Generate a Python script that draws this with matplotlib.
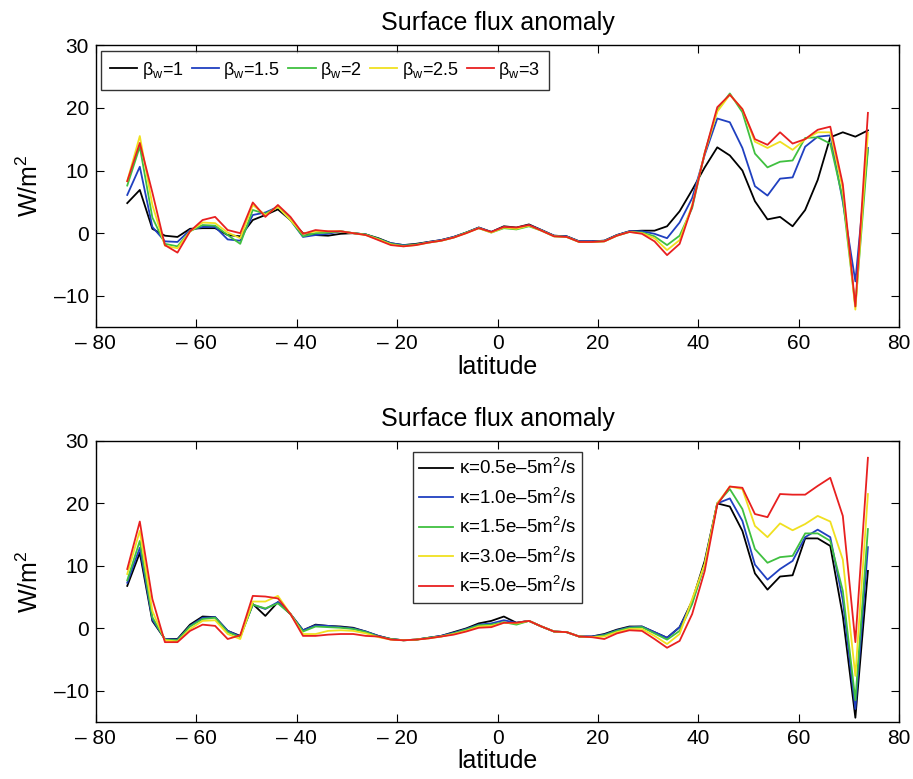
import numpy as np
import matplotlib
matplotlib.use("Agg")
import matplotlib.pyplot as plt

plt.rcParams['font.family'] = ['Liberation Sans', 'DejaVu Sans']
plt.rcParams['mathtext.fontset'] = 'custom'
plt.rcParams['mathtext.rm'] = 'Liberation Sans'
plt.rcParams['mathtext.it'] = 'Liberation Sans:italic'

# latitude grid of the model output
lat = np.arange(-73.75, 74.0, 2.5)

# top panel: beta_w experiments
beta_labels = ['β$_\\mathrm{w}$=1', 'β$_\\mathrm{w}$=1.5', 'β$_\\mathrm{w}$=2',
               'β$_\\mathrm{w}$=2.5', 'β$_\\mathrm{w}$=3']
beta_1 = [4.8, 6.9, 0.7, -0.4, -0.6, 0.7, 0.8, 0.8, -0.3, -0.5,
          2.1, 2.9, 3.8, 2.1, 0.0, -0.3, -0.4, -0.1, 0.0, -0.2,
          -0.8, -1.6, -1.9, -1.7, -1.4, -1.1, -0.6, 0.1, 0.9, 0.2,
          1.1, 0.9, 1.4, 0.5, -0.4, -0.5, -1.3, -1.3, -1.2, -0.3,
          0.3, 0.4, 0.4, 1.1, 3.5, 6.9, 10.5, 13.7, 12.4, 10.0,
          5.1, 2.2, 2.6, 1.1, 3.7, 8.5, 15.3, 16.1, 15.4, 16.4]
beta_15 = [6.1, 10.6, 1.0, -1.3, -1.4, 0.5, 1.0, 1.0, -1.0, -1.2,
           2.9, 3.3, 4.2, 2.1, -0.6, -0.3, -0.1, 0.3, 0.0, -0.2,
           -0.9, -1.6, -1.9, -1.8, -1.4, -1.1, -0.6, 0.1, 0.9, 0.2,
           1.0, 0.8, 1.3, 0.5, -0.4, -0.5, -1.3, -1.3, -1.2, -0.3,
           0.3, 0.3, -0.1, -0.8, 1.7, 5.6, 12.5, 18.3, 17.7, 13.6,
           7.5, 6.0, 8.7, 8.9, 13.8, 15.4, 15.6, 5.0, -7.7, 13.6]
beta_2 = [7.6, 13.8, 2.5, -1.7, -2.1, 0.3, 1.3, 1.2, -0.3, -1.7,
          3.7, 3.1, 4.2, 2.1, -0.5, 0.0, 0.1, 0.3, 0.0, -0.2,
          -0.9, -1.7, -2.0, -1.8, -1.5, -1.2, -0.7, 0.1, 0.8, 0.1,
          0.8, 0.6, 1.1, 0.4, -0.5, -0.6, -1.4, -1.4, -1.3, -0.4,
          0.2, 0.1, -0.5, -1.9, -0.4, 4.0, 12.8, 19.6, 22.3, 19.3,
          12.7, 10.5, 11.4, 11.6, 15.2, 15.3, 14.3, 5.5, -11.7, 13.3]
beta_25 = [8.3, 15.5, 4.5, -2.0, -2.4, 0.3, 1.7, 1.6, 0.1, -0.8,
           4.5, 2.9, 4.2, 2.1, -0.1, 0.3, 0.3, 0.3, 0.0, -0.3,
           -1.0, -1.8, -2.1, -1.9, -1.5, -1.2, -0.7, 0.0, 0.8, 0.1,
           0.9, 0.7, 1.2, 0.4, -0.5, -0.6, -1.4, -1.4, -1.3, -0.4,
           0.2, 0.0, -0.8, -2.7, -1.1, 4.5, 12.8, 19.4, 22.1, 19.8,
           14.6, 13.6, 14.6, 13.3, 15.0, 16.1, 16.1, 7.0, -12.2, 16.0]
beta_3 = [8.3, 14.4, 6.5, -1.9, -3.1, 0.3, 2.1, 2.6, 0.5, 0.0,
          4.9, 2.6, 4.5, 2.6, -0.1, 0.5, 0.3, 0.3, 0.0, -0.3,
          -1.1, -1.9, -2.1, -1.9, -1.5, -1.2, -0.7, 0.0, 0.8, 0.2,
          1.0, 0.9, 1.3, 0.4, -0.5, -0.6, -1.4, -1.4, -1.3, -0.4,
          0.2, -0.1, -1.3, -3.5, -1.7, 4.3, 12.8, 20.1, 22.1, 19.8,
          15.0, 14.1, 16.1, 14.3, 15.0, 16.5, 17.0, 7.8, -11.7, 19.2]

# bottom panel: kappa experiments
kappa_labels = ['κ=0.5e–5m$^2$/s', 'κ=1.0e–5m$^2$/s', 'κ=1.5e–5m$^2$/s',
                'κ=3.0e–5m$^2$/s', 'κ=5.0e–5m$^2$/s']
kappa_05 = [6.8, 12.1, 1.2, -1.7, -1.7, 0.6, 1.9, 1.8, -0.4, -1.2,
            3.9, 2.0, 4.2, 2.3, -0.3, 0.6, 0.4, 0.3, 0.1, -0.5,
            -1.2, -1.7, -1.9, -1.8, -1.5, -1.2, -0.6, 0.0, 0.8, 1.2,
            1.9, 0.9, 1.2, 0.3, -0.5, -0.6, -1.3, -1.3, -0.9, -0.2,
            0.3, 0.3, -0.6, -1.5, 0.2, 4.4, 10.8, 20.0, 19.5, 15.6,
            8.8, 6.2, 8.3, 8.5, 14.4, 14.4, 13.2, 2.0, -14.3, 9.2]
kappa_10 = [7.3, 12.9, 1.4, -1.7, -1.8, 0.4, 1.7, 1.8, -0.4, -1.3,
            3.8, 3.1, 4.2, 2.3, -0.3, 0.5, 0.4, 0.2, 0.0, -0.5,
            -1.2, -1.7, -1.9, -1.8, -1.5, -1.2, -0.7, -0.1, 0.6, 0.8,
            1.3, 0.9, 1.2, 0.3, -0.5, -0.6, -1.3, -1.3, -1.0, -0.3,
            0.2, 0.3, -0.6, -1.5, 0.2, 4.2, 10.3, 20.0, 20.8, 17.2,
            10.2, 7.8, 9.5, 10.8, 14.6, 15.8, 14.6, 4.5, -12.9, 13.0]
kappa_15 = [7.7, 14.0, 1.8, -1.8, -1.9, 0.3, 1.5, 1.7, -0.6, -1.4,
            3.8, 3.2, 4.0, 2.3, -0.5, 0.3, 0.2, 0.1, -0.1, -0.6,
            -1.3, -1.7, -1.9, -1.8, -1.5, -1.3, -0.8, -0.2, 0.5, 0.6,
            1.0, 0.6, 1.2, 0.3, -0.5, -0.6, -1.3, -1.4, -1.1, -0.4,
            0.1, 0.2, -0.8, -1.8, -0.4, 3.9, 10.3, 20.0, 22.3, 19.1,
            12.7, 10.5, 11.4, 11.6, 15.2, 15.2, 14.0, 6.0, -11.5, 15.9]
kappa_30 = [8.7, 15.6, 2.8, -1.9, -2.1, -0.1, 1.2, 1.3, -0.9, -1.7,
            4.3, 4.3, 5.2, 2.3, -0.9, -0.9, -0.4, -0.3, -0.4, -0.8,
            -1.4, -1.8, -1.9, -1.8, -1.6, -1.3, -0.9, -0.4, 0.3, 0.4,
            0.9, 0.8, 1.2, 0.3, -0.5, -0.6, -1.3, -1.4, -1.3, -0.6,
            -0.1, -0.1, -1.2, -2.5, -0.9, 4.7, 10.3, 20.0, 22.7, 22.3,
            16.4, 14.6, 16.8, 15.7, 16.7, 18.0, 17.1, 11.0, -7.6, 21.5]
kappa_50 = [9.5, 17.1, 4.7, -2.2, -2.2, -0.4, 0.6, 0.4, -1.7, -1.1,
            5.2, 5.1, 4.8, 2.3, -1.2, -1.2, -1.0, -0.9, -0.9, -1.2,
            -1.3, -1.8, -1.9, -1.8, -1.6, -1.3, -1.0, -0.5, 0.1, 0.2,
            0.9, 0.9, 1.2, 0.3, -0.5, -0.6, -1.3, -1.4, -1.7, -0.8,
            -0.3, -0.4, -1.7, -3.1, -2.0, 2.3, 9.2, 19.8, 22.7, 22.5,
            18.3, 17.8, 21.5, 21.4, 21.4, 22.8, 24.1, 18.0, -2.2, 27.3]

colors = ['black', '#2040c0', '#40c040', '#f0e020', '#e82020']
xticks = [-80, -60, -40, -20, 0, 20, 40, 60, 80]
xticklabels = ['– 80', '– 60', '– 40', '– 20', '0', '20', '40', '60', '80']
yticks = [-10, 0, 10, 20, 30]
yticklabels = ['–10', '0', '10', '20', '30']

fig = plt.figure(figsize=(9.13, 7.79), dpi=100)
ax1 = fig.add_axes([0.105, 0.580, 0.880, 0.362])
ax2 = fig.add_axes([0.105, 0.073, 0.880, 0.361])


def style(ax):
    ax.set_xlim(-80, 80)
    ax.set_ylim(-15, 30)
    ax.set_xticks(xticks)
    ax.set_xticklabels(xticklabels)
    ax.set_yticks(yticks)
    ax.set_yticklabels(yticklabels)
    ax.tick_params(direction='in', top=True, right=True, labelsize=15,
                   length=6, width=0.8, pad=5)
    for s in ax.spines.values():
        s.set_linewidth(1.0)
    ax.set_xlabel('latitude', fontsize=18, labelpad=1)
    ax.set_ylabel('W/m$^2$', fontsize=18, labelpad=8)
    ax.set_title('Surface flux anomaly', fontsize=18, pad=11)


for ys, c, lab in zip([beta_1, beta_15, beta_2, beta_25, beta_3], colors, beta_labels):
    ax1.plot(lat, ys, color=c, lw=1.3, label=lab)
style(ax1)
leg1 = ax1.legend(loc='upper left', ncol=5, fontsize=13, frameon=True,
                  fancybox=False, edgecolor='black', handlelength=1.5,
                  handletextpad=0.25, columnspacing=0.45, borderaxespad=0.3,
                  borderpad=0.5)
leg1.get_frame().set_linewidth(1.0)

for ys, c, lab in zip([kappa_05, kappa_10, kappa_15, kappa_30, kappa_50], colors, kappa_labels):
    ax2.plot(lat, ys, color=c, lw=1.3, label=lab)
style(ax2)
leg2 = ax2.legend(loc='upper center', bbox_to_anchor=(0.5, 0.995), fontsize=13.5,
                  frameon=True, fancybox=False, edgecolor='black',
                  handlelength=1.8, handletextpad=0.3, labelspacing=0.5,
                  borderpad=0.35)
leg2.get_frame().set_linewidth(1.0)

fig.savefig('out.png', dpi=100)
